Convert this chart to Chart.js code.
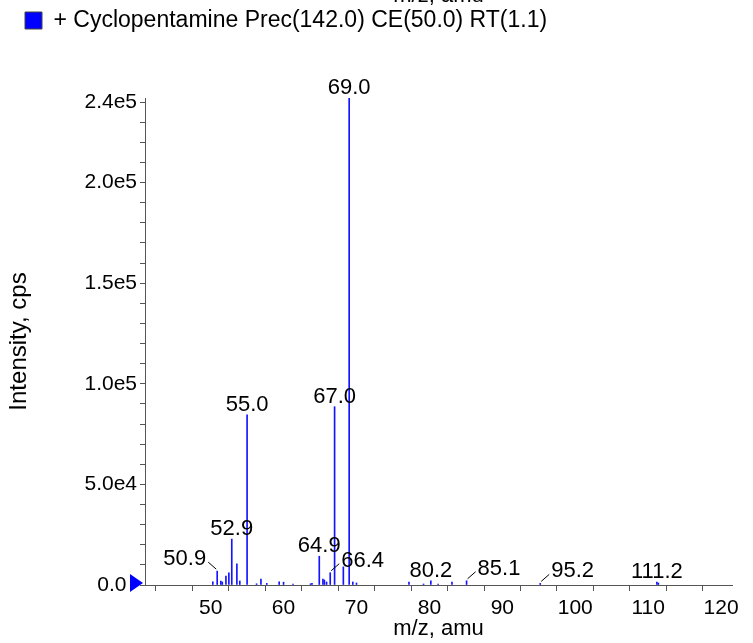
<!DOCTYPE html>
<html>
<head>
<meta charset="utf-8">
<script src="https://cdn.jsdelivr.net/npm/chart.js@4.4.1/dist/chart.umd.min.js"></script>
<style>
html,body{margin:0;padding:0;background:#fff}
</style>
</head>
<body>
<canvas id="spec" width="753" height="643"></canvas>
<script>
// data
var seriesName = '+ Cyclopentamine Prec(142.0) CE(50.0) RT(1.1)'
var mz = [50.3, 50.9, 51.4, 51.6, 52.1, 52.5, 52.9, 53.6, 54.0, 55.0, 56.3, 56.9, 57.7,
          59.4, 60.0, 61.3, 63.7, 63.9, 64.9, 65.4, 65.6, 65.9, 66.4, 67.0, 68.2, 69.0,
          69.5, 70.0, 77.2, 79.2, 80.2, 81.2, 83.1, 85.1, 95.2, 111.2, 111.4]
var intensity = [1600, 6900, 2000, 1500, 4400, 6100, 22800, 10500, 2000, 84600, 600, 3000, 800,
                 1600, 1400, 400, 600, 800, 14300, 3000, 2500, 1500, 6100, 88600, 9000, 242000,
                 1500, 1000, 1500, 500, 2100, 500, 1500, 2100, 800, 1500, 1000]
var peakLabels = ['50.9', '52.9', '55.0', '64.9', '66.4', '67.0', '69.0', '80.2', '85.1', '95.2', '111.2']
var xTickValues = [45, 50, 55, 60, 65, 70, 75, 80, 85, 90, 95, 100, 105, 110, 115, 120]
var yTickValues = [0, 10000, 20000, 30000, 40000, 50000, 60000, 70000, 80000, 90000, 100000,
                   110000, 120000, 130000, 140000, 150000, 160000, 170000, 180000, 190000, 200000,
                   210000, 220000, 230000, 240000]
var yLabelled = [0, 50000, 100000, 150000, 200000, 240000]
var xTitle = 'm/z, amu'
var yTitle = 'Intensity, cps'

// labels that sit beside their peak with a short leader
var leaderLeft = ['50.9']
var leaderRight = ['66.4', '85.1', '95.2']

var FONT = "'Liberation Sans', Arial, sans-serif"
Chart.defaults.font.family = FONT
Chart.defaults.color = '#000'

var points = []
for (var i = 0; i < mz.length; i++) points.push({x: mz[i], y: intensity[i]})

function fmtY(v){
    if (v === 0) return '0.0\u2002'
    return v.toExponential(1).replace('+', '')
}

// push the plot down below the legend
var legendGap = {
    id: 'legendGap',
    beforeLayout: function(chart){
        var lg = chart.legend
        if (!lg || lg._gapPatched) return
        var fit = lg.fit
        lg.fit = function(){ fit.call(lg); lg.height += 56 }
        lg._gapPatched = true
    }
}

var peakText = {
    id: 'peakText',
    afterDatasetsDraw: function(chart){
        var ctx = chart.ctx, xs = chart.scales.x, ys = chart.scales.y
        ctx.save()
        ctx.font = '22px ' + FONT
        ctx.fillStyle = '#000'
        ctx.strokeStyle = '#000'
        ctx.lineWidth = 1
        peakLabels.forEach(function(lbl){
            var idx = mz.indexOf(parseFloat(lbl))
            var px = xs.getPixelForValue(mz[idx])
            var top = ys.getPixelForValue(intensity[idx])
            if (leaderLeft.indexOf(lbl) >= 0) {
                ctx.beginPath(); ctx.moveTo(px - 1, top - 2); ctx.lineTo(px - 9, top - 9); ctx.stroke()
                ctx.textAlign = 'right'; ctx.textBaseline = 'middle'
                ctx.fillText(lbl, px - 11, top - 12)
            } else if (leaderRight.indexOf(lbl) >= 0) {
                ctx.beginPath(); ctx.moveTo(px + 1, top - 2); ctx.lineTo(px + 9, top - 9); ctx.stroke()
                ctx.textAlign = 'left'; ctx.textBaseline = 'middle'
                ctx.fillText(lbl, px + 11, top - 12)
            } else {
                ctx.textAlign = 'center'; ctx.textBaseline = 'alphabetic'
                ctx.fillText(lbl, px, top - 4)
            }
        })
        // zero marker on the y axis
        var y0 = ys.getPixelForValue(0)
        ctx.fillStyle = '#0000ff'
        ctx.beginPath()
        ctx.moveTo(xs.left - 2, y0 - 2)
        ctx.lineTo(xs.left - 15, y0 - 11)
        ctx.lineTo(xs.left - 15, y0 + 7)
        ctx.closePath()
        ctx.fill()
        // the x title repeated, cut off at the very top of the picture
        ctx.fillStyle = '#000'
        ctx.font = '22px ' + FONT
        ctx.textAlign = 'center'; ctx.textBaseline = 'alphabetic'
        ctx.fillText(xTitle, (xs.left + xs.right) / 2, 2)
        ctx.restore()
    }
}

new Chart(document.getElementById('spec'), {
    type: 'bar',
    data: {
        datasets: [{
            label: seriesName,
            data: points,
            backgroundColor: '#1414ff',
            borderWidth: 0,
            barThickness: 1,
            grouped: false
        }]
    },
    options: {
        responsive: false,
        animation: false,
        devicePixelRatio: 1,
        layout: {padding: {top: 1, left: 17, right: 21, bottom: 0}},
        plugins: {
            legend: {
                position: 'top',
                align: 'start',
                labels: {
                    boxWidth: 17,
                    boxHeight: 17,
                    padding: 8,
                    font: {size: 23},
                    color: '#000',
                    generateLabels: function(){
                        return [{text: seriesName, fillStyle: '#0000ff', strokeStyle: '#444', lineWidth: 1, datasetIndex: 0}]
                    }
                }
            },
            tooltip: {enabled: false}
        },
        scales: {
            x: {
                type: 'linear',
                min: 41,
                max: 121.5,
                offset: false,
                afterBuildTicks: function(s){ s.ticks = xTickValues.map(function(v){ return {value: v} }) },
                afterFit: function(s){ s.height = 58 },
                ticks: {
                    autoSkip: false,
                    maxRotation: 0,
                    padding: 5,
                    font: {size: 21},
                    callback: function(v){ return v % 10 === 0 ? String(v) : '' }
                },
                title: {display: true, text: xTitle, font: {size: 22, lineHeight: 1}, padding: {top: 0, bottom: 3}},
                grid: {display: true, drawOnChartArea: false, drawTicks: true, tickLength: 6, tickColor: '#555'},
                border: {display: true, color: '#555'}
            },
            y: {
                min: 0,
                max: 242000,
                afterBuildTicks: function(s){ s.ticks = yTickValues.map(function(v){ return {value: v} }) },
                afterFit: function(s){ s.width = 128 },
                ticks: {
                    autoSkip: false,
                    padding: 3,
                    font: {size: 21},
                    callback: function(v){ return yLabelled.indexOf(v) >= 0 ? fmtY(v) : '' }
                },
                title: {display: true, text: yTitle, font: {size: 24, lineHeight: 1}, padding: {top: -10, bottom: 0}},
                grid: {display: true, drawOnChartArea: false, drawTicks: true, tickLength: 5, tickColor: '#555'},
                border: {display: true, color: '#555'}
            }
        }
    },
    plugins: [legendGap, peakText]
})
</script>
</body>
</html>
